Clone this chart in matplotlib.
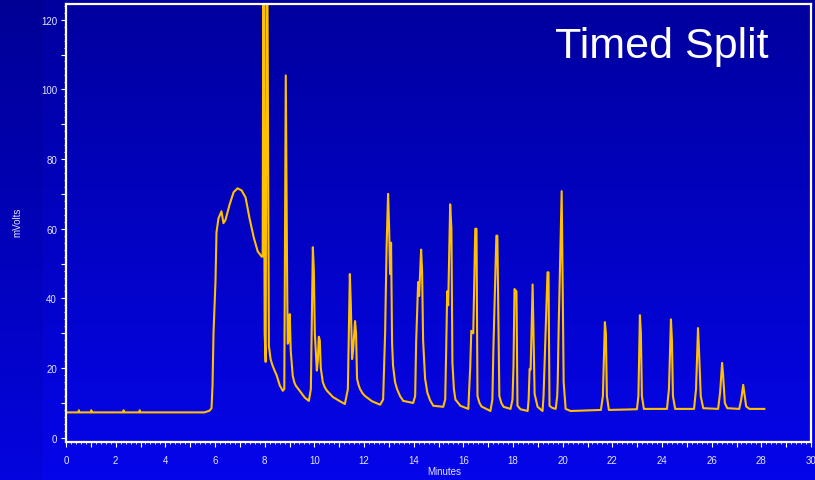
"""
timed_split.py

Chromatogram trace ("Timed Split") on a blue gradient background.
Writes out.png.
"""

import numpy as np
import matplotlib
matplotlib.use("Agg")
import matplotlib.pyplot as plt
from matplotlib.ticker import MultipleLocator, FuncFormatter

# ---- data (minutes, mVolts) ----
time_min = [
    0.00, 0.50, 0.52, 0.54, 1.00, 1.02, 1.04, 2.30, 2.32, 2.34, 2.95, 2.97, 2.99,
    5.58, 5.78, 5.86, 5.90, 5.94, 6.02, 6.06, 6.14, 6.26, 6.34, 6.42, 6.59, 6.75,
    6.91, 7.07, 7.23, 7.39, 7.56, 7.72, 7.88, 7.92,
    7.95, 8.00, 8.04, 8.08, 8.10, 8.17,
    8.24, 8.32, 8.40, 8.48, 8.61, 8.73, 8.79, 8.85, 8.91, 8.93, 8.97, 9.01, 9.05,
    9.13, 9.19, 9.25, 9.41, 9.62, 9.78, 9.86, 9.94, 9.98, 10.02, 10.10, 10.14,
    10.18, 10.22, 10.26, 10.34, 10.42, 10.51, 10.75, 11.03, 11.23, 11.35, 11.39,
    11.43, 11.47, 11.52, 11.56, 11.64, 11.68, 11.72, 11.78, 11.84, 11.94, 12.04,
    12.32, 12.65, 12.77, 12.85, 12.91, 12.97, 13.01, 13.05, 13.09, 13.13, 13.17,
    13.25, 13.33, 13.45, 13.58, 13.98, 14.06, 14.10, 14.18, 14.22, 14.30, 14.34,
    14.38, 14.46, 14.55, 14.66, 14.79, 15.19, 15.27, 15.31, 15.35, 15.39, 15.47,
    15.52, 15.56, 15.62, 15.68, 15.88, 16.20, 16.28, 16.32, 16.40, 16.48, 16.53,
    16.57, 16.65, 16.73, 17.09, 17.17, 17.21, 17.33, 17.37, 17.45, 17.53, 17.62,
    17.90, 17.98, 18.02, 18.06, 18.14, 18.18, 18.30, 18.59, 18.63, 18.67, 18.71,
    18.79, 18.87, 18.99, 19.19, 19.23, 19.27, 19.39, 19.43, 19.47, 19.58, 19.72,
    19.78, 19.80, 19.84, 19.96, 20.04, 20.12, 20.32, 21.54, 21.62, 21.70, 21.74,
    21.78, 21.86,
    22.99, 23.05, 23.11, 23.15, 23.19, 23.27,
    24.20, 24.28, 24.36, 24.40, 24.44, 24.53,
    25.29, 25.37, 25.45, 25.49, 25.56, 25.66,
    26.26, 26.34, 26.42, 26.46, 26.53, 26.63,
    27.11, 27.19, 27.27, 27.33, 27.39, 27.52, 28.12,
]
signal_mv = [
    7.3, 7.3, 7.9, 7.3, 7.3, 7.9, 7.3, 7.3, 7.9, 7.3, 7.3, 7.9, 7.3,
    7.3, 7.8, 8.5, 15.0, 30.0, 45.0, 59.0, 63.0, 65.0, 61.6, 62.5, 67.0, 70.5,
    71.6, 71.0, 69.0, 63.0, 57.5, 53.5, 52.0, 52.0,
    150.0, 30.0, 21.8, 150.0, 150.0, 26.4,
    22.5, 20.7, 19.3, 18.0, 15.0, 13.5, 14.0, 104.0, 40.0, 27.0, 28.0, 35.5, 25.0,
    17.8, 16.0, 15.0, 13.5, 11.5, 10.6, 14.0, 54.7, 48.0, 30.0, 19.3, 22.0,
    29.0, 28.0, 20.0, 16.0, 14.5, 13.5, 11.7, 10.5, 9.7, 14.0, 30.0,
    47.0, 38.0, 22.6, 25.0, 33.5, 30.0, 17.0, 15.2, 14.0, 12.8, 12.0,
    10.5, 9.5, 11.0, 30.0, 55.0, 70.0, 60.7, 47.0, 56.0, 27.5, 20.7,
    16.0, 14.0, 12.0, 10.6, 10.0, 12.0, 27.5, 44.7, 40.7, 54.0, 47.5,
    28.0, 17.0, 13.0, 10.8, 9.2, 8.9, 11.0, 25.5, 42.0, 38.0, 67.0,
    60.0, 21.6, 14.0, 11.0, 9.2, 8.3, 20.7, 30.7, 30.0, 60.0, 60.0,
    12.0, 10.0, 9.0, 7.7, 11.0, 25.5, 58.0, 58.0, 12.0, 10.0, 8.9,
    8.3, 11.0, 20.7, 42.7, 42.0, 9.2, 8.2, 7.7, 11.0, 19.8, 19.6,
    44.0, 12.6, 8.9, 7.7, 12.0, 20.7, 47.5, 47.5, 9.2, 8.6, 8.3,
    12.0, 16.0, 32.0, 70.8, 16.0, 8.3, 7.7, 8.0, 12.0, 33.2, 30.0,
    12.0, 8.0,
    8.2, 12.0, 35.2, 30.0, 12.0, 8.3,
    8.3, 14.0, 34.0, 28.0, 12.0, 8.3,
    8.3, 14.0, 31.5, 25.0, 12.0, 8.5,
    8.3, 13.0, 21.5, 18.0, 10.0, 8.5,
    8.3, 11.0, 15.2, 12.0, 9.0, 8.3, 8.3,
]

title_text = "Timed Split"
x_label = "Minutes"
y_label = "mVolts"

LINE_COLOR = "#FFC000"
TEXT_COLOR = "#E4E4FF"
TOP_BLUE = (0.0, 0.0, 0.62)
BOTTOM_BLUE = (0.02, 0.02, 0.92)


def main() -> None:
    plt.rcParams["font.family"] = ["Liberation Sans", "DejaVu Sans"]

    fig = plt.figure(figsize=(8.15, 4.81), dpi=100)

    # full-figure vertical gradient
    bg = fig.add_axes([0, 0, 1, 1], zorder=0)
    grad = np.linspace(0, 1, 256)[:, None]
    img = np.zeros((256, 2, 3))
    for c in range(3):
        img[:, :, c] = TOP_BLUE[c] + (BOTTOM_BLUE[c] - TOP_BLUE[c]) * grad
    bg.imshow(img, aspect="auto", extent=[0, 1, 0, 1], origin="upper")
    bg.axvspan(0, 43 / 815, color="black", alpha=0.05, lw=0)
    bg.set_xlim(0, 1)
    bg.set_ylim(0, 1)
    bg.axis("off")

    ax = fig.add_axes([66 / 815, 1 - 443 / 481, 745 / 815, 438 / 481], zorder=1)
    ax.patch.set_alpha(0)

    ax.plot(time_min, signal_mv, color=LINE_COLOR, linewidth=1.5, solid_joinstyle="round")

    ax.set_xlim(0, 30)
    ax.set_ylim(-1.2, 124.5)

    for spine in ax.spines.values():
        spine.set_color("white")
        spine.set_linewidth(1.6)

    ax.xaxis.set_major_locator(MultipleLocator(1))
    ax.xaxis.set_minor_locator(MultipleLocator(0.2))
    ax.xaxis.set_major_formatter(FuncFormatter(lambda v, p: f"{v:.0f}" if round(v) % 2 == 0 else ""))
    ax.yaxis.set_major_locator(MultipleLocator(10))
    ax.yaxis.set_minor_locator(MultipleLocator(2))
    ax.yaxis.set_major_formatter(FuncFormatter(lambda v, p: f"{v:.0f}" if round(v) % 20 == 0 else ""))

    ax.tick_params(which="major", direction="out", length=3.5, width=0.8,
                   color="white", labelcolor=TEXT_COLOR, labelsize=7, pad=3)
    ax.tick_params(which="minor", direction="out", length=1.5, width=0.6, color="white")
    ax.tick_params(axis="x", which="major", pad=6)

    # axis titles placed in figure pixels, as in the reference
    fig.text(17 / 815, 1 - 222 / 481, y_label, color=TEXT_COLOR, fontsize=7,
             rotation=90, ha="center", va="center")
    fig.text(444 / 815, 1 - 472 / 481, x_label, color=TEXT_COLOR, fontsize=7,
             ha="center", va="center")

    ax.text(28.3, 112.5, title_text, color="white", fontsize=31,
            ha="right", va="center")

    fig.savefig("out.png", dpi=100)
    plt.close(fig)


if __name__ == "__main__":
    main()
